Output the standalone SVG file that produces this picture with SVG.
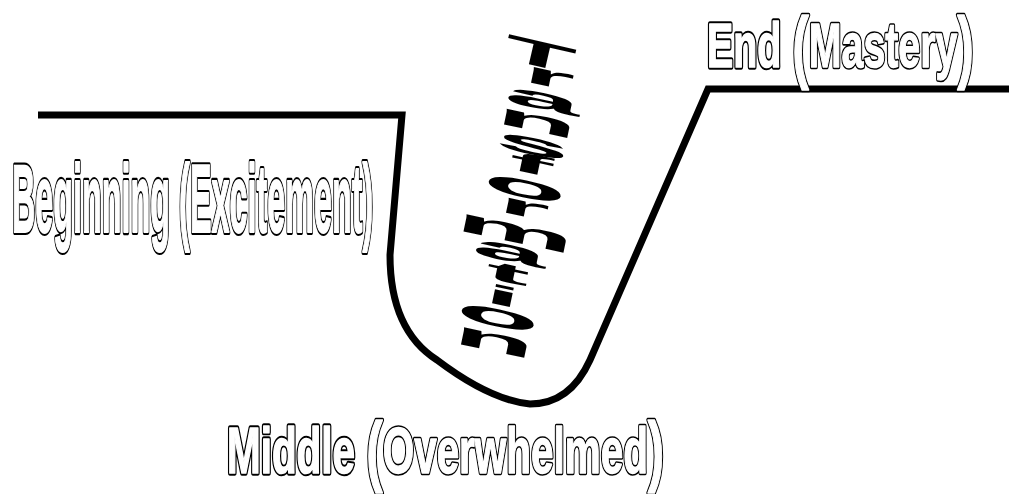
<svg xmlns="http://www.w3.org/2000/svg" width="1009" height="494" viewBox="0 0 1009 494" xmlns:xlink="http://www.w3.org/1999/xlink">
<style>
.ot { font-family: "Liberation Sans", Arial, sans-serif; font-weight: bold; vector-effect: non-scaling-stroke; stroke-linejoin: round; }
.back { fill: #000; stroke: #000; stroke-width: 4.6; }
.front { fill: #fff; stroke: #fff; stroke-width: 1.4; }
.curve { fill: none; stroke: #000; stroke-width: 7; stroke-linejoin: miter; }
.tl { font-family: "Liberation Sans", Arial, sans-serif; font-weight: bold; font-size: 30px; fill: #000; text-anchor: middle; }
</style>
<defs>
  <text id="tBeg" class="ot" font-size="96" transform="translate(12,232) scale(0.337,1)">Beginning (Excitement)</text>
  <text id="tEnd" class="ot" font-size="63" transform="translate(707,67) scale(0.624,1)">End <tspan font-size="80" dy="6.4">(</tspan><tspan dy="-6.4">Mastery</tspan><tspan font-size="80" dy="6.4">)</tspan></text>
  <text id="tMid" class="ot" font-size="64" transform="translate(227,473) scale(0.632,1)">Middle <tspan font-size="78" dy="3.6">(</tspan><tspan dy="-3.6">Overwhelmed</tspan><tspan font-size="78" dy="3.6">)</tspan></text>
</defs>
<rect width="1009" height="494" fill="#fff"/>
<g id="connectors">
  <path class="curve" d="M38,115 H402 L390,255 Q390,330 437,360 Q490,400 530,404 Q570,404 590,360 L708,89 H1009"/>
</g>
<g id="beginning">
  <use xlink:href="#tBeg" href="#tBeg" class="back"/>
  <use xlink:href="#tBeg" href="#tBeg" class="front"/>
</g>
<g id="end">
  <use xlink:href="#tEnd" href="#tEnd" class="back"/>
  <use xlink:href="#tEnd" href="#tEnd" class="front"/>
</g>
<g id="middle">
  <use xlink:href="#tMid" href="#tMid" class="back"/>
  <use xlink:href="#tMid" href="#tMid" class="front"/>
</g>
<g id="transformation">
  <text class="tl" transform="translate(537,66) rotate(13) scale(3.9,1.2)">T</text>
  <text class="tl" transform="translate(547,86) rotate(12) scale(4.4,1.0)">r</text>
  <text class="tl" transform="translate(541,109) rotate(12) scale(4.6,1.0)">a</text>
  <text class="tl" transform="translate(535,131) rotate(12) scale(4.5,1.0)">n</text>
  <text class="tl" transform="translate(531,154) rotate(12) scale(4.5,1.0)">s</text>
  <text class="tl" transform="translate(529,173) rotate(12) scale(4.4,0.9)">f</text>
  <text class="tl" transform="translate(523,197) rotate(12) scale(4.6,1.05)">o</text>
  <text class="tl" transform="translate(522,216) rotate(12) scale(4.4,0.95)">r</text>
  <text class="tl" transform="translate(513,242) rotate(12) scale(4.5,1.1)">m</text>
  <text class="tl" transform="translate(508,261) rotate(12) scale(4.5,1.0)">a</text>
  <text class="tl" transform="translate(506,282) rotate(12) scale(4.4,0.9)">t</text>
  <text class="tl" transform="translate(501,305) rotate(12) scale(4.4,0.9)">i</text>
  <text class="tl" transform="translate(496,326) rotate(12) scale(4.6,1.05)">o</text>
  <text class="tl" transform="translate(492,351) rotate(12) scale(4.5,1.1)">n</text>
</g>
</svg>
